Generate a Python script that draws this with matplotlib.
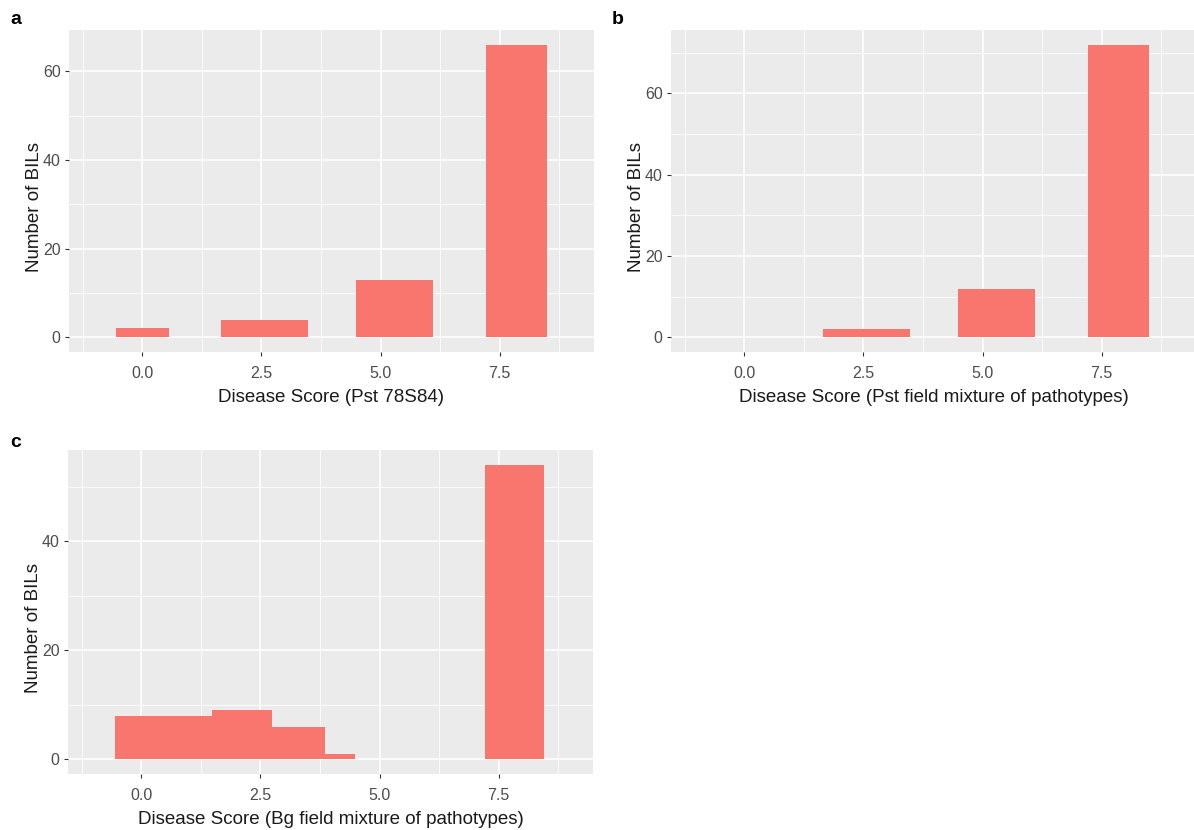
import matplotlib
matplotlib.use("Agg")
import matplotlib.pyplot as plt
from matplotlib.ticker import FixedLocator

# ---------------------------------------------------------------------------
# Data (bar extents on the score axis and BIL counts)
# ---------------------------------------------------------------------------
SCORE_LO = [-0.56, 1.65, 4.48, 7.21]
SCORE_HI = [0.56, 3.48, 6.10, 8.49]
COUNT_A = [2, 4, 13, 66]
COUNT_B = [0, 2, 12, 72]

SCORE_LO_C = [-0.56, 1.48, 2.75, 3.85, 7.21]
SCORE_HI_C = [1.48, 2.75, 3.85, 4.49, 8.46]
COUNT_C = [8, 9, 6, 1, 54]

X_TICKS = [0.0, 2.5, 5.0, 7.5]
X_TICK_LABELS = ["0.0", "2.5", "5.0", "7.5"]
XLABELS = [
    "Disease Score (Pst 78S84)",
    "Disease Score (Pst field mixture of pathotypes)",
    "Disease Score (Bg field mixture of pathotypes)",
]
YLABEL = "Number of BILs"
PANEL_TAGS = ["a", "b", "c"]

# ---------------------------------------------------------------------------
# Style (ggplot2 theme_gray look)
# ---------------------------------------------------------------------------
BAR_COLOR = "#F8766D"
PANEL_BG = "#EBEBEB"
TICK_COLOR = "#4D4D4D"
FONT = ["Liberation Sans", "DejaVu Sans"]

W, H = 1194, 830
fig = plt.figure(figsize=(W / 100, H / 100), dpi=100)


def px_axes(left, top, right, bottom):
    """Axes rectangle given in pixel coordinates (origin top-left)."""
    return fig.add_axes([left / W, 1 - bottom / H, (right - left) / W,
                         (bottom - top) / H])


def draw_panel(ax, lo, hi, counts, xlabel):
    widths = [h - l for l, h in zip(lo, hi)]
    ax.bar(lo, counts, width=widths, align="edge", color=BAR_COLOR,
           edgecolor="none", zorder=3)

    ymax = max(counts)
    ax.set_xlim(-1.54, 9.48)
    ax.set_ylim(-0.05 * ymax, 1.05 * ymax)

    ax.set_facecolor(PANEL_BG)
    for s in ax.spines.values():
        s.set_visible(False)

    ax.xaxis.set_major_locator(FixedLocator(X_TICKS))
    ax.set_xticklabels(X_TICK_LABELS)
    ax.xaxis.set_minor_locator(FixedLocator([-1.25, 1.25, 3.75, 6.25, 8.75]))
    yt = [v for v in range(0, 80, 20) if v <= 1.05 * ymax]
    ax.yaxis.set_major_locator(FixedLocator(yt))
    ax.yaxis.set_minor_locator(FixedLocator(
        [v for v in range(10, 80, 20) if v <= 1.05 * ymax]))

    ax.grid(which="major", color="white", linewidth=1.1, zorder=0)
    ax.grid(which="minor", color="white", linewidth=0.55, zorder=0)
    ax.set_axisbelow(True)

    ax.tick_params(which="major", length=3, width=0.8, color="#333333",
                   labelcolor=TICK_COLOR, labelsize=11.5)
    ax.tick_params(axis="x", which="major", pad=7)
    ax.tick_params(axis="y", which="major", pad=3)
    ax.tick_params(which="minor", length=0)
    for lab in ax.get_xticklabels() + ax.get_yticklabels():
        lab.set_family(FONT)

    ax.set_xlabel(xlabel, fontsize=13.5, family=FONT, color="#1A1A1A",
                  labelpad=6)
    ax.set_ylabel(YLABEL, fontsize=13.5, family=FONT, color="#1A1A1A",
                  labelpad=0)
    ax.yaxis.label.set_y(0.45)


ax_a = px_axes(69, 30, 594, 352)
ax_b = px_axes(671, 30, 1196, 352)
ax_c = px_axes(68, 450, 593, 774)

draw_panel(ax_a, SCORE_LO, SCORE_HI, COUNT_A, XLABELS[0])
draw_panel(ax_b, SCORE_LO, SCORE_HI, COUNT_B, XLABELS[1])
draw_panel(ax_c, SCORE_LO_C, SCORE_HI_C, COUNT_C, XLABELS[2])

for tag, (x, y) in zip(PANEL_TAGS, [(10, 20), (612, 20), (10, 442)]):
    fig.text(x / W, 1 - y / H, tag, fontsize=14, fontweight="bold",
             family=FONT, ha="left", va="center")

fig.savefig("out.png", dpi=100)
